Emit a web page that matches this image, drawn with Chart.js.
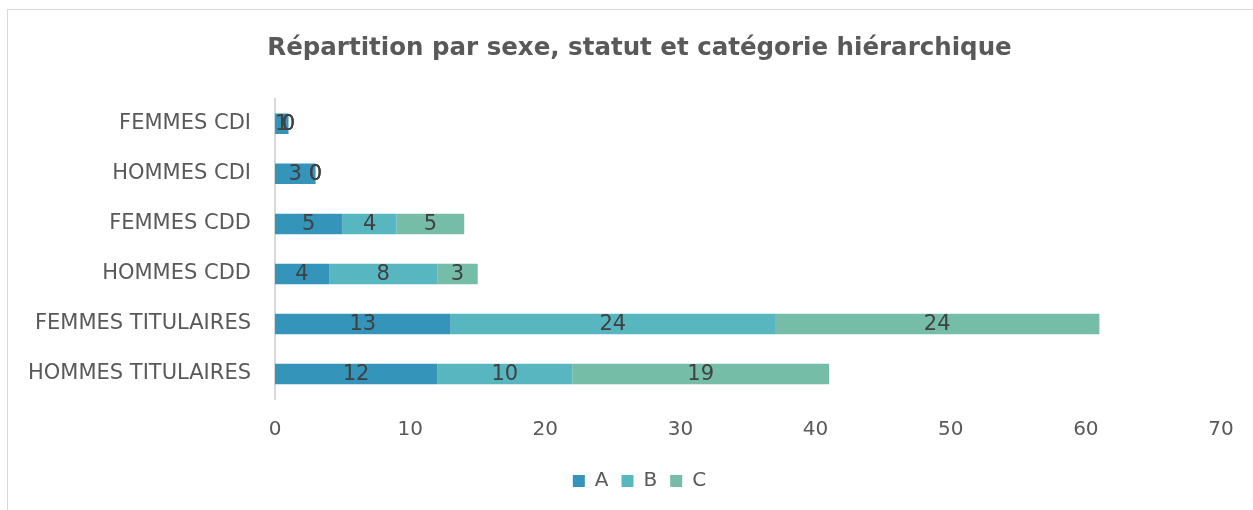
<!DOCTYPE html>
<html lang="fr">
<head>
<meta charset="utf-8">
<title>Répartition par sexe, statut et catégorie hiérarchique</title>
<script src="https://cdn.jsdelivr.net/npm/chart.js@4/dist/chart.umd.min.js"></script>
<style>
  html, body { margin: 0; padding: 0; background: #ffffff; overflow: hidden; }
  #frame {
    position: absolute; left: 7px; top: 9px; width: 1300px; height: 560px;
    border-top: 1px solid #d9d9d9; border-left: 1px solid #d9d9d9;
  }
  #wrap { position: absolute; left: 8px; top: 10px; width: 1245px; height: 500px; }
</style>
</head>
<body>
<div id="frame"></div>
<div id="wrap"><canvas id="chartOne"></canvas></div>
<script>
// Chart data
const categories = [
  "FEMMES CDI",
  "HOMMES CDI",
  "FEMMES CDD",
  "HOMMES CDD",
  "FEMMES TITULAIRES",
  "HOMMES TITULAIRES",
];
const seriesA = [1, 3, 5, 4, 13, 12];
const seriesB = [0, 0, 4, 8, 24, 10];
const seriesC = [0, 0, 5, 3, 24, 19];
const xTicks = [0, 10, 20, 30, 40, 50, 60, 70];

const FONT = "'DejaVu Sans', sans-serif";
const TEXT = "#595959";
const SHIFT = 25; // title and legend sit a bit right of the canvas centre

// Draw value labels in the middle of each segment
const barLabels = {
  id: "barLabels",
  afterLayout(chart) {
    [chart.titleBlock, chart.legend].forEach(function (box) {
      if (box) {
        box.left += SHIFT;
        box.right += SHIFT;
      }
    });
  },
  afterDatasetsDraw(chart) {
    const ctx = chart.ctx;
    ctx.save();
    ctx.font = "21px " + FONT;
    ctx.fillStyle = "#404040";
    ctx.textAlign = "center";
    ctx.textBaseline = "middle";
    chart.data.datasets.forEach(function (ds, i) {
      const meta = chart.getDatasetMeta(i);
      if (meta.hidden) return;
      meta.data.forEach(function (bar, j) {
        const p = bar.getCenterPoint();
        ctx.fillText(String(ds.data[j]), p.x, p.y + 1);
      });
    });
    ctx.restore();
  },
};

function initChart() {
  const ctx = document.getElementById("chartOne");
  new Chart(ctx, {
    type: "bar",
    data: {
      labels: categories,
      datasets: [
        { label: "A", data: seriesA, backgroundColor: "#3494ba" },
        { label: "B", data: seriesB, backgroundColor: "#58b6c0" },
        { label: "C", data: seriesC, backgroundColor: "#75bda7" },
      ],
    },
    options: {
      indexAxis: "y",
      responsive: true,
      maintainAspectRatio: false,
      animation: false,
      layout: { padding: { top: 0, right: 32, bottom: 9, left: 0 } },
      datasets: {
        bar: { barPercentage: 0.41, categoryPercentage: 1.0, borderWidth: 0 },
      },
      plugins: {
        title: {
          display: true,
          text: "Répartition par sexe, statut et catégorie hiérarchique",
          color: TEXT,
          font: { family: FONT, size: 24.5, weight: "bold", lineHeight: 1.2 },
          padding: { top: 24, bottom: 35.4 },
        },
        legend: {
          position: "bottom",
          labels: {
            color: TEXT,
            font: { family: FONT, size: 20 },
            boxWidth: 12,
            boxHeight: 12,
            padding: 13,
          },
        },
        tooltip: { enabled: false },
      },
      scales: {
        x: {
          stacked: true,
          min: 0,
          max: 70,
          afterBuildTicks(scale) {
            scale.ticks = xTicks.map(function (v) { return { value: v }; });
          },
          afterFit(scale) { scale.height = 59; },
          grid: { display: false, drawTicks: false },
          border: { display: false },
          ticks: { color: TEXT, font: { family: FONT, size: 20 }, padding: 19 },
        },
        y: {
          stacked: true,
          afterFit(scale) { scale.width = 267; },
          grid: { display: false, drawTicks: false },
          border: { display: true, color: "#d9d9d9", width: 2 },
          ticks: { color: TEXT, font: { family: FONT, size: 21 }, padding: 24 },
        },
      },
    },
    plugins: [barLabels],
  });
}

document.addEventListener("DOMContentLoaded", initChart);
</script>
</body>
</html>
